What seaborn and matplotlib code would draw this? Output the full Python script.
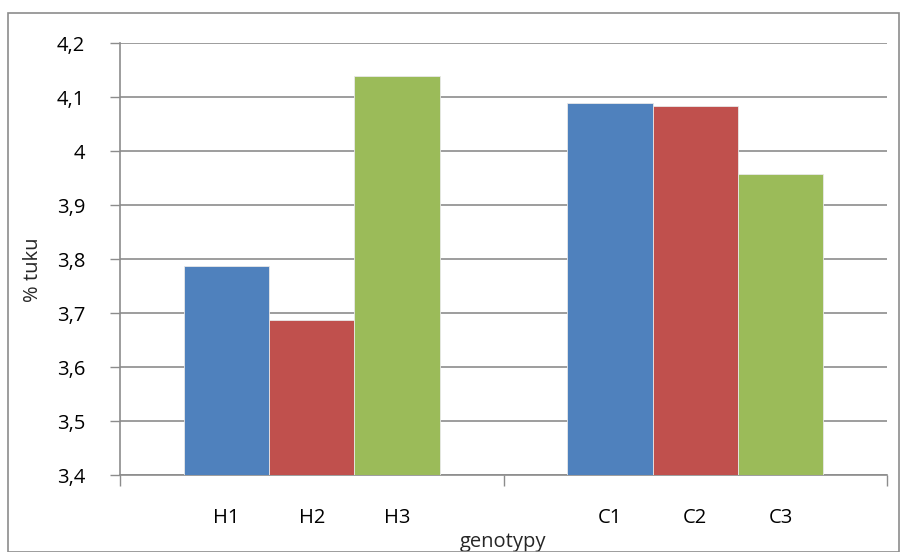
import matplotlib
matplotlib.use("Agg")
import matplotlib.pyplot as plt
import seaborn as sns
import pandas as pd
from matplotlib.ticker import FuncFormatter, FixedLocator
from matplotlib.patches import Rectangle

groups = ["H", "H", "H", "C", "C", "C"]
series = ["1", "2", "3", "1", "2", "3"]
genotypes = ["H1", "H2", "H3", "C1", "C2", "C3"]
values = [3.787, 3.687, 4.138, 4.088, 4.084, 3.958]
colors = ["#4F81BD", "#C0504D", "#9BBB59"]
yticks = [3.4, 3.5, 3.6, 3.7, 3.8, 3.9, 4.0, 4.1, 4.2]

df = pd.DataFrame({"group": groups, "series": series, "genotype": genotypes, "value": values})

sns.set_theme(style="white")
plt.rcParams["font.family"] = ["Open Sans", "DejaVu Sans"]

fig = plt.figure(figsize=(9.02, 5.52), dpi=100)
ax = fig.add_axes([120/902, 1-475/552, (887-120)/902, (475-43)/552])

sns.barplot(data=df, x="group", y="value", hue="series", palette=colors,
            order=["H", "C"], hue_order=["1", "2", "3"], width=0.668, gap=0,
            saturation=1, edgecolor="#E8E8E8", linewidth=0.6, ax=ax, legend=False, zorder=3)

ax.set_ylim(3.4, 4.2)
ax.set_xlim(-0.5, 1.5)
ax.yaxis.set_major_locator(FixedLocator(yticks))
ax.yaxis.set_major_formatter(FuncFormatter(lambda v, p: ("%g" % round(v, 2)).replace(".", ",")))
ax.grid(axis="y", color="#8C8C8C", linewidth=1.2, zorder=0)
ax.set_axisbelow(True)

ax.set_xticks([-0.5, 0.5, 1.5])
ax.set_xticklabels(["", "", ""])
ax.tick_params(axis="x", length=8, width=1, color="#8C8C8C", direction="out", bottom=True)
ax.tick_params(axis="y", length=7, width=1, color="#8C8C8C", direction="out", left=True,
               labelsize=14.5, labelcolor="black", pad=18)

for s in ["top", "right"]:
    ax.spines[s].set_visible(False)
for s in ["left", "bottom"]:
    ax.spines[s].set_color("#8C8C8C")
    ax.spines[s].set_linewidth(1.2)

# labels under each bar
label_map = {(g, s): lab for g, s, lab in zip(groups, series, genotypes)}
order = ["H", "C"]
for si, cont in enumerate(ax.containers):
    for gi, bar in enumerate(cont):
        cx = bar.get_x() + bar.get_width() / 2
        ax.text(cx, -0.10, label_map[(order[gi], ["1", "2", "3"][si])],
                transform=ax.get_xaxis_transform(), ha="center", va="center",
                fontsize=14.5, color="black")

ax.set_xlabel("genotypy", fontsize=14.5)
ax.xaxis.set_label_coords(0.5, -0.133)
ax.set_ylabel("% tuku", fontsize=14.5)
ax.yaxis.set_label_coords(-0.10, 0.475)

fig.patches.append(Rectangle((8/902, 0.0), (899-8)/902, 1-13/552, transform=fig.transFigure,
                             fill=False, edgecolor="#8C8C8C", linewidth=1.2))

fig.savefig("out.png", dpi=100)
